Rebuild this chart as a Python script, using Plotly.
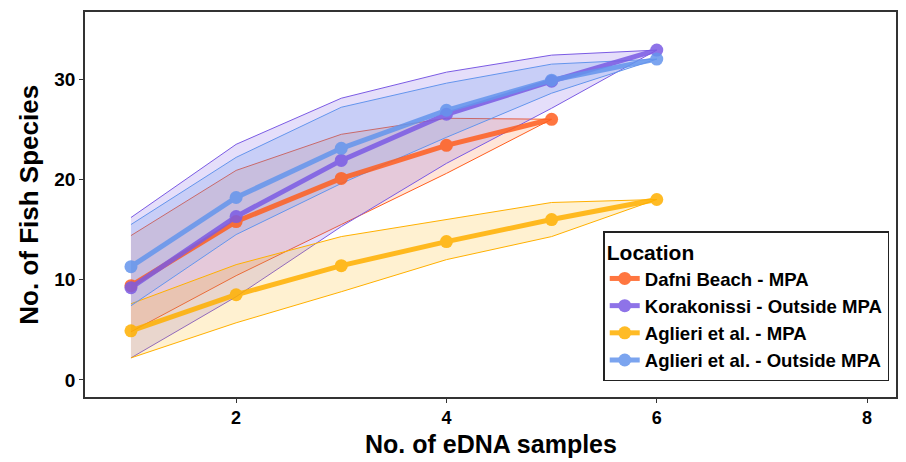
import plotly.graph_objects as go

samples = [1, 2, 3, 4, 5, 6]

names = ["Dafni Beach - MPA", "Korakonissi - Outside MPA",
         "Aglieri et al. - MPA", "Aglieri et al. - Outside MPA"]
colors = ["#FF5F1F", "#7B5BE4", "#FFB000", "#6495ED"]
fills = ["rgba(255,110,40,0.18)", "rgba(123,91,228,0.20)",
         "rgba(255,176,0,0.18)", "rgba(100,149,237,0.22)"]

dafni_x = [1, 2, 3, 4, 5]
dafni_mean = [9.4, 15.8, 20.1, 23.4, 26.0]
dafni_upper = [14.4, 20.9, 24.5, 26.1, 26.0]
dafni_lower = [4.8, 10.4, 15.5, 20.6, 26.0]

kora_x = [1, 2, 3, 4, 5, 6]
kora_mean = [9.2, 16.3, 21.9, 26.5, 29.8, 32.9]
kora_upper = [16.2, 23.5, 28.1, 30.7, 32.4, 32.9]
kora_lower = [2.2, 8.3, 15.3, 21.6, 27.1, 32.9]

agmpa_x = [1, 2, 3, 4, 5, 6]
agmpa_mean = [4.9, 8.5, 11.4, 13.8, 16.0, 18.0]
agmpa_upper = [7.6, 11.5, 14.3, 16.0, 17.7, 18.0]
agmpa_lower = [2.2, 5.7, 8.8, 12.0, 14.3, 18.0]

agout_x = [1, 2, 3, 4, 5, 6]
agout_mean = [11.3, 18.2, 23.1, 26.9, 29.9, 32.0]
agout_upper = [15.5, 22.2, 27.2, 29.6, 31.5, 32.0]
agout_lower = [7.4, 14.5, 19.6, 24.2, 28.6, 32.0]

series = [
    (dafni_x, dafni_mean, dafni_upper, dafni_lower),
    (kora_x, kora_mean, kora_upper, kora_lower),
    (agmpa_x, agmpa_mean, agmpa_upper, agmpa_lower),
    (agout_x, agout_mean, agout_upper, agout_lower),
]

fig = go.Figure()

# confidence bands
for (xs, m, up, lo), c, f in zip(series, colors, fills):
    fig.add_trace(go.Scatter(
        x=list(xs) + list(xs)[::-1],
        y=list(up) + list(lo)[::-1],
        fill="toself", fillcolor=f,
        line=dict(color=c, width=1),
        mode="lines", showlegend=False, hoverinfo="skip"))

# mean lines
for (xs, m, up, lo), c, n in zip(series, colors, names):
    fig.add_trace(go.Scatter(
        x=xs, y=m, name=n, mode="lines+markers",
        line=dict(color=c, width=5),
        marker=dict(color=c, size=13),
        opacity=0.85))

font_family = "Liberation Sans, Arial, sans-serif"

# page body has an 8px default margin, so the figure is 8px smaller each way
fig.update_layout(
    width=898, height=454,
    margin=dict(l=77, r=10, t=4, b=65, autoexpand=False),
    paper_bgcolor="white", plot_bgcolor="white",
    font=dict(family=font_family, color="black"),
    legend=dict(
        title=dict(text="Location", font=dict(size=21, weight="bold", color="black")),
        font=dict(size=18.6, weight="bold", color="black"),
        x=0.639, y=0.431, xanchor="left", yanchor="top",
        bgcolor="white", bordercolor="#222", borderwidth=1.5,
        tracegroupgap=2, itemwidth=30),
    annotations=[
        dict(text="No. of eDNA samples", xref="paper", yref="paper",
             x=0.5, y=-0.122, xanchor="center", yanchor="middle", showarrow=False,
             font=dict(size=25, weight="bold", color="black")),
        dict(text="No. of Fish Species", xref="paper", yref="paper",
             x=-0.07, y=0.5, xanchor="center", yanchor="middle", showarrow=False,
             textangle=-90, font=dict(size=26, weight="bold", color="black")),
    ],
)

fig.update_xaxes(
    range=[0.563, 8.275], tickvals=[2, 4, 6, 8], automargin=False,
    showgrid=False, zeroline=False,
    showline=True, mirror=True, linecolor="#333", linewidth=1.5,
    ticks="outside", ticklen=4, tickcolor="#333",
    tickfont=dict(size=18, weight="bold", color="black"))

fig.update_yaxes(
    range=[-1.7, 36.7], tickvals=[0, 10, 20, 30], automargin=False,
    showgrid=False, zeroline=False,
    showline=True, mirror=True, linecolor="#333", linewidth=1.5,
    ticks="outside", ticklen=4, tickcolor="#333",
    tickfont=dict(size=19, weight="bold", color="black"))

fig.write_html("out.html")
